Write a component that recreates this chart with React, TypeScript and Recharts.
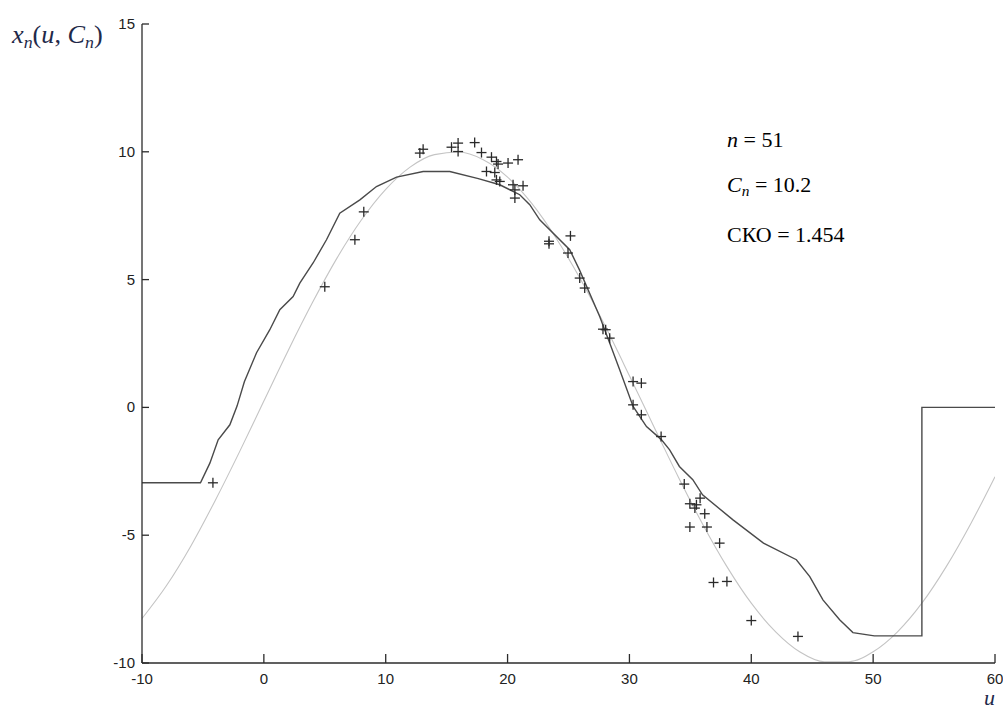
import React from "react"
import { ComposedChart, Line, Scatter, XAxis, YAxis } from "recharts"

// light (reference) curve, read every 2 units of u
const lightU = [-10, -8, -6, -4, -2, 0, 2, 4, 6, 8, 10, 12, 14, 16, 18, 20, 22, 24, 26, 28, 30, 32, 34, 36, 38, 40, 42, 44, 46, 48, 50, 52, 54, 56, 58, 60]
const lightV = [-8.26, -6.98, -5.43, -3.65, -1.74, 0.25, 2.23, 4.11, 5.84, 7.33, 8.53, 9.4, 9.89, 9.99, 9.69, 9.01, 7.97, 6.61, 5.0, 3.19, 1.24, -0.75, -2.71, -4.56, -6.23, -7.66, -8.78, -9.57, -9.95, -9.95, -9.56, -8.78, -7.66, -6.23, -4.56, -2.71]

// dark (estimated) curve
const darkU = [-10, -5.2, -4.43, -3.75, -2.79, -2.2, -1.6, -0.6, 0.49, 1.31, 2.4, 2.95, 4.04, 5.14, 6.23, 7.88, 9.24, 10.89, 13.07, 15.26, 17.6, 19.36, 21.0, 21.82, 22.64, 25.1, 25.9, 27.56, 28.38, 29.2, 30.3, 31.4, 32.6, 33.3, 34.1, 35.2, 36.0, 38.5, 41.0, 43.7, 44.8, 45.88, 47.25, 48.34, 50.1, 54.0, 54.0, 60]
const darkV = [-2.95, -2.95, -2.18, -1.27, -0.68, 0.05, 1.0, 2.14, 3.04, 3.82, 4.34, 4.86, 5.65, 6.56, 7.6, 8.12, 8.64, 9.01, 9.23, 9.23, 8.95, 8.71, 8.32, 7.93, 7.34, 6.17, 5.38, 3.56, 2.52, 1.47, 0.04, -0.75, -1.25, -1.66, -2.31, -2.83, -3.42, -4.4, -5.31, -5.96, -6.62, -7.53, -8.31, -8.81, -8.94, -8.94, 0, 0]

// n = 51 samples
const pointU = [-4.18, 5.0, 7.47, 8.2, 12.8, 13.07, 15.4, 15.94, 15.94, 17.3, 17.86, 18.68, 19.09, 19.22, 20.04, 20.86, 18.27, 18.95, 19.09, 19.36, 20.45, 20.6, 21.27, 20.6, 23.4, 23.4, 25.16, 24.96, 25.92, 26.33, 27.83, 28.05, 28.38, 30.3, 30.98, 30.3, 30.98, 32.6, 34.5, 34.96, 35.37, 35.5, 35.8, 36.18, 34.96, 36.36, 37.4, 36.9, 38.0, 40.0, 43.83]
const pointV = [-2.95, 4.72, 6.56, 7.65, 9.95, 10.1, 10.18, 10.34, 10.01, 10.36, 9.97, 9.79, 9.62, 9.52, 9.56, 9.69, 9.23, 9.19, 8.9, 8.84, 8.71, 8.51, 8.67, 8.19, 6.5, 6.4, 6.71, 6.04, 5.06, 4.67, 3.06, 3.04, 2.71, 1.01, 0.95, 0.1, -0.29, -1.14, -3.0, -3.77, -3.94, -3.81, -3.55, -4.16, -4.68, -4.68, -5.31, -6.85, -6.81, -8.34, -8.96]

const xTicks = [-10, 0, 10, 20, 30, 40, 50, 60]
const yTicks = [-10, -5, 0, 5, 10, 15]

const lightData = lightU.map((u, i) => ({ u, v: lightV[i] }))
const darkData = darkU.map((u, i) => ({ u, v: darkV[i] }))
const pointData = pointU.map((u, i) => ({ u, v: pointV[i] }))

const tickFont = { fontFamily: "'Liberation Sans', Arial, sans-serif", fontSize: 15, fill: "#222" }
const serif = "'Liberation Serif', 'Times New Roman', serif"
const navy = "#1f2a4a"

function XTick(props: any) {
  const { x, y, payload } = props
  return (
    <g>
      <line x1={x} y1={y} x2={x} y2={y - 9} stroke="#2b2b2b" strokeWidth={1.3} />
      <text x={x} y={y + 21} textAnchor="middle" {...tickFont}>{payload.value}</text>
    </g>
  )
}

function YTick(props: any) {
  const { x, y, payload } = props
  return (
    <g>
      <line x1={x} y1={y} x2={x + 7} y2={y} stroke="#2b2b2b" strokeWidth={1.3} />
      <text x={x - 7} y={y + 5} textAnchor="end" {...tickFont}>{payload.value}</text>
    </g>
  )
}

function Cross(props: any) {
  const { cx, cy } = props
  return (
    <g stroke="#2a2a2a" strokeWidth={1.3}>
      <line x1={cx - 5} y1={cy} x2={cx + 5} y2={cy} />
      <line x1={cx} y1={cy - 5} x2={cx} y2={cy + 5} />
    </g>
  )
}

export default function App() {
  return (
    <div style={{ position: "absolute", left: 0, top: 0, width: 1003, height: 710, background: "#fff" }}>
      <ComposedChart width={1003} height={710} margin={{ top: 24, right: 8, left: 0, bottom: 0 }}>
        <XAxis
          dataKey="u"
          type="number"
          domain={[-10, 60]}
          ticks={xTicks}
          interval={0}
          height={47}
          tickSize={0}
          tickMargin={0}
          tickLine={false}
          tick={<XTick />}
          axisLine={{ stroke: "#2b2b2b", strokeWidth: 1.3 }}
          allowDataOverflow
        />
        <YAxis
          dataKey="v"
          type="number"
          domain={[-10, 15]}
          ticks={yTicks}
          interval={0}
          width={142}
          tickSize={0}
          tickMargin={0}
          tickLine={false}
          tick={<YTick />}
          axisLine={{ stroke: "#2b2b2b", strokeWidth: 1.3 }}
          allowDataOverflow
        />
        <Line data={lightData} dataKey="v" type="monotone" stroke="#c4c4c4" strokeWidth={1.1} dot={false} isAnimationActive={false} />
        <Line data={darkData} dataKey="v" type="linear" stroke="#4a4a4a" strokeWidth={1.4} dot={false} isAnimationActive={false} />
        <Scatter data={pointData} dataKey="v" shape={<Cross />} isAnimationActive={false} />
      </ComposedChart>
      <svg width={1003} height={710} style={{ position: "absolute", left: 0, top: 0, pointerEvents: "none" }}>
        <g transform="translate(12,43) scale(1.05,1)">
          <text x={0} y={0} fontFamily={serif} fontSize={25} fill={navy}>
            <tspan fontStyle="italic">x</tspan>
            <tspan fontStyle="italic" fontSize={17} dy={5}>n</tspan>
            <tspan dy={-5}>(</tspan>
            <tspan fontStyle="italic">u</tspan>
            <tspan>, </tspan>
            <tspan fontStyle="italic">C</tspan>
            <tspan fontStyle="italic" fontSize={17} dy={5}>n</tspan>
            <tspan dy={-5}>)</tspan>
          </text>
        </g>
        <text x={984} y={705} fontFamily={serif} fontSize={22} fontStyle="italic" fill={navy}>u</text>
        <g transform="translate(727,147) scale(1.1,1)">
          <text x={0} y={0} fontFamily={serif} fontSize={20} fill="#000">
            <tspan fontStyle="italic">n</tspan>
            <tspan> = 51</tspan>
          </text>
        </g>
        <g transform="translate(727,192) scale(1.1,1)">
          <text x={0} y={0} fontFamily={serif} fontSize={20} fill="#000">
            <tspan fontStyle="italic">C</tspan>
            <tspan fontStyle="italic" fontSize={14} dy={4}>n</tspan>
            <tspan dy={-4}> = 10.2</tspan>
          </text>
        </g>
        <g transform="translate(727,242) scale(1.1,1)">
          <text x={0} y={0} fontFamily={serif} fontSize={20} fill="#000">СКО = 1.454</text>
        </g>
      </svg>
    </div>
  )
}
